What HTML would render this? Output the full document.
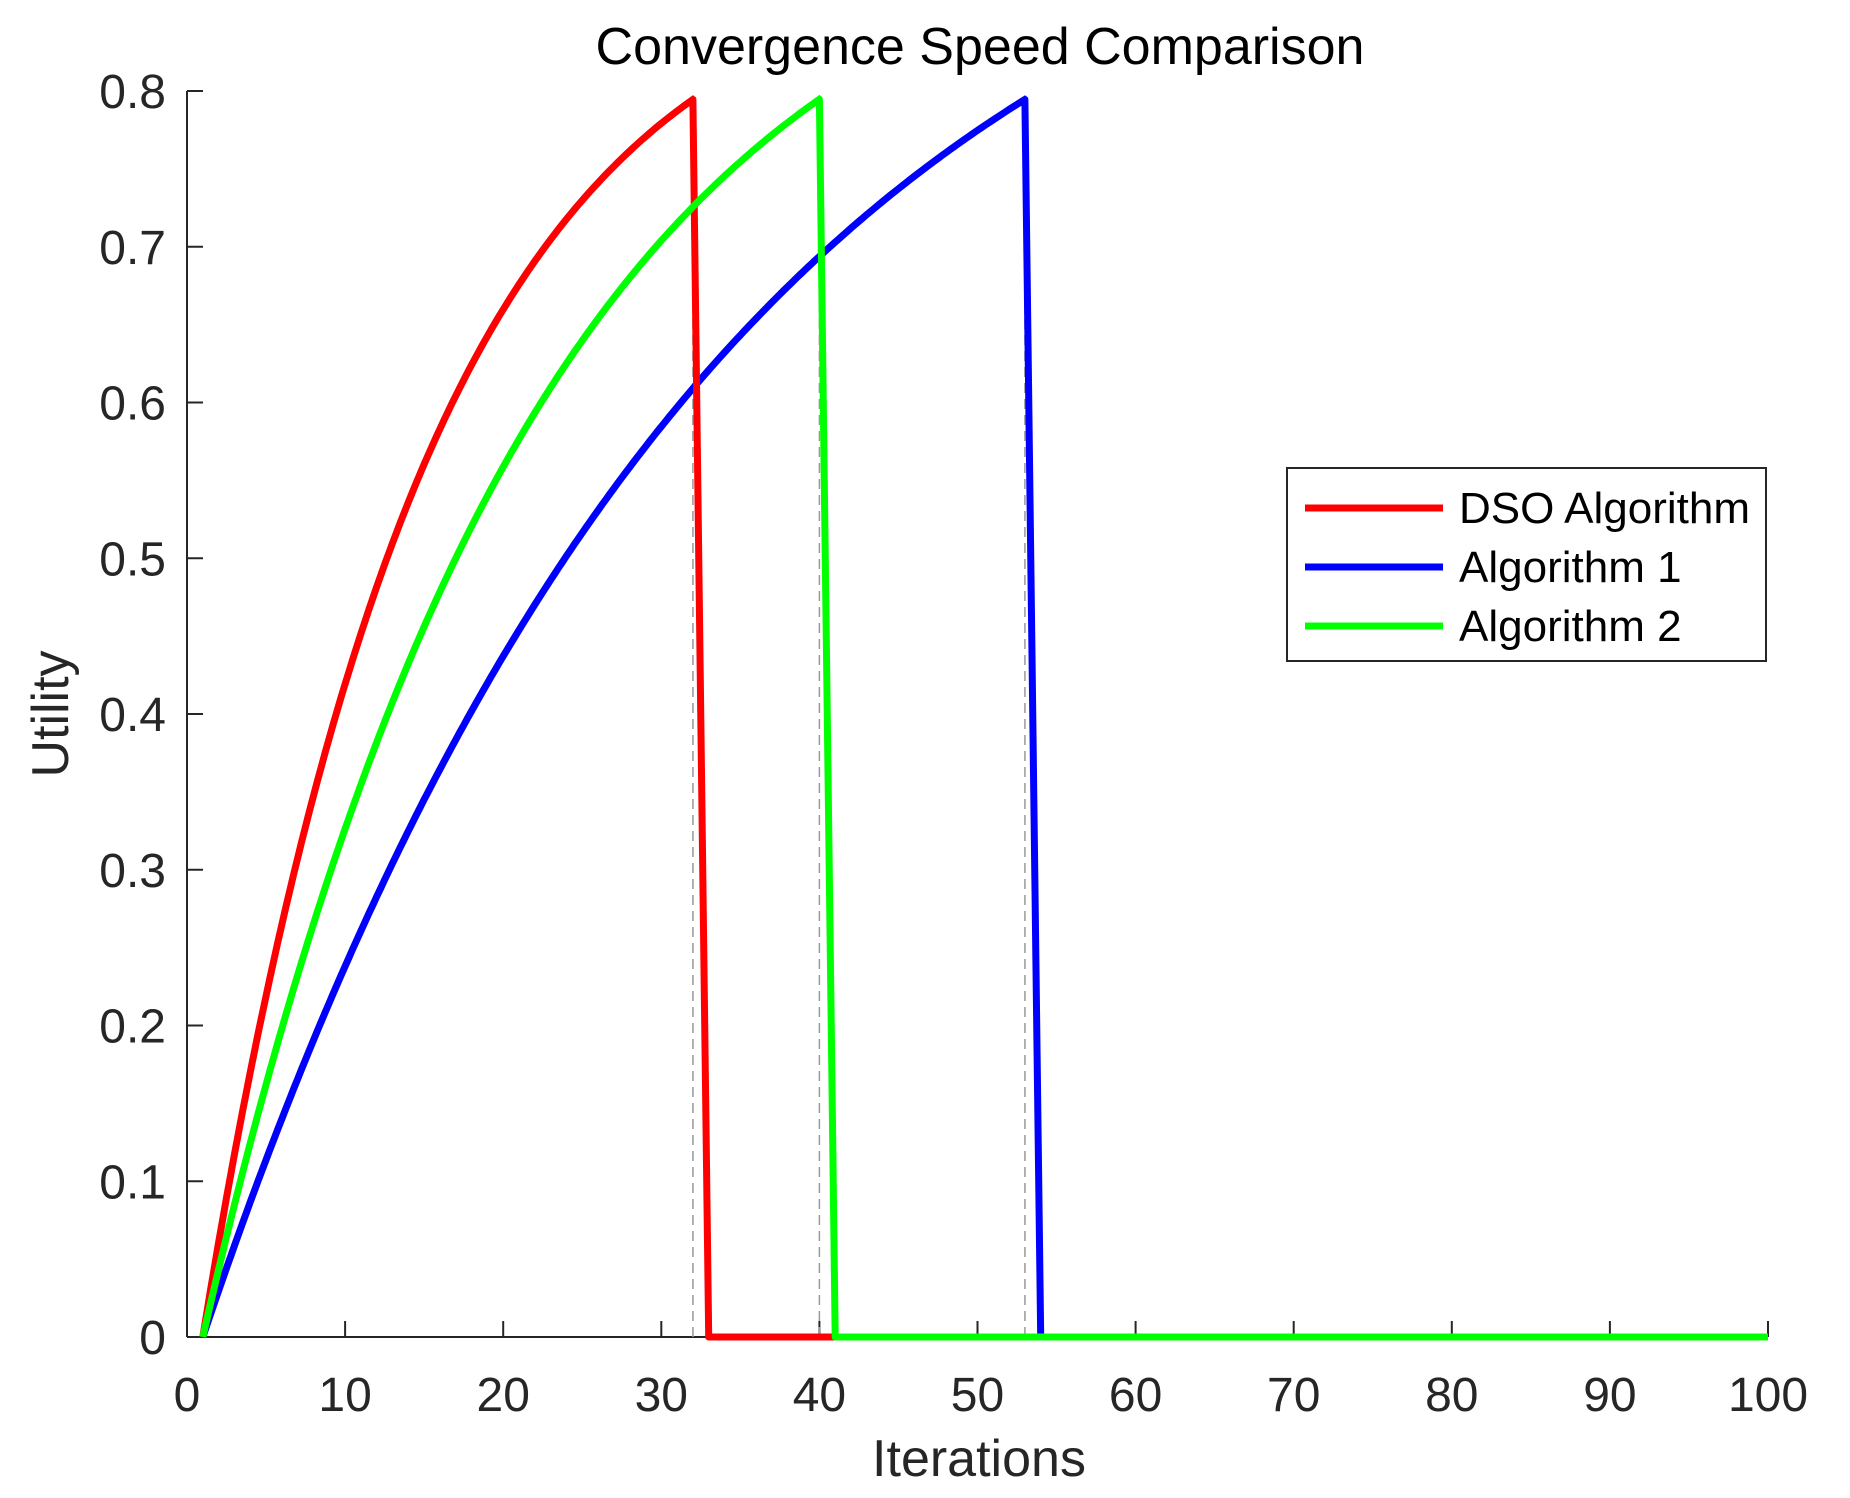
<!DOCTYPE html>
<html><head><meta charset="utf-8"><style>
html,body{margin:0;padding:0;background:#fff;}
svg{display:block;font-family:"Liberation Sans",Arial,sans-serif;}
</style></head><body>
<svg id="s" width="1850" height="1498" viewBox="0 0 1850 1498">
<rect width="1850" height="1498" fill="#fff"/>
<g id="ticks" stroke="#262626" stroke-width="2"></g>
<g id="lab" fill="#262626" font-size="48"></g>
<text x="980" y="64" text-anchor="middle" font-size="52" fill="#000">Convergence Speed Comparison</text>
<text x="979" y="1476" text-anchor="middle" font-size="52" fill="#262626">Iterations</text>
<text transform="translate(68,714) rotate(-90)" text-anchor="middle" font-size="52" fill="#262626">Utility</text>
<g id="dash" stroke="#999" stroke-width="1.5" stroke-dasharray="10,6"></g>
<g id="lines" fill="none" stroke-width="7" stroke-linejoin="round"></g>
<rect x="1287" y="468" width="479" height="193" fill="#fff" stroke="#262626" stroke-width="2"/>
<line x1="1305" y1="508" x2="1443" y2="508" stroke="#ff0000" stroke-width="7"/>
<line x1="1305" y1="567" x2="1443" y2="567" stroke="#0000ff" stroke-width="7"/>
<line x1="1305" y1="626" x2="1443" y2="626" stroke="#00ff00" stroke-width="7"/>
<g font-size="44" fill="#000">
<text x="1459" y="523">DSO Algorithm</text>
<text x="1459" y="582">Algorithm 1</text>
<text x="1459" y="641">Algorithm 2</text>
</g>
</svg>
<script>
const X0=187,X1=1768,Y0=1337,Y8=91;
const sx=x=>X0+(X1-X0)*x/100, sy=v=>Y0-(Y0-Y8)*v/0.8;
const NS="http://www.w3.org/2000/svg";
function el(p,t,a,txt){const e=document.createElementNS(NS,t);for(const k in a)e.setAttribute(k,a[k]);if(txt!==undefined)e.textContent=txt;document.getElementById(p).appendChild(e);}
el("ticks","line",{x1:X0,y1:Y8,x2:X0,y2:Y0});
el("ticks","line",{x1:X0,y1:Y0,x2:X1,y2:Y0});
for(let i=0;i<=10;i++){const x=sx(i*10);el("ticks","line",{x1:x,y1:Y0,x2:x,y2:Y0-16});
 el("lab","text",{x:x,y:Y0+74,"text-anchor":"middle"},String(i*10));}
for(let i=0;i<=8;i++){const y=sy(i/10);el("ticks","line",{x1:X0,y1:y,x2:X0+16,y2:y});
 el("lab","text",{x:X0-21,y:y+17,"text-anchor":"end"},i==0?"0":(i/10).toFixed(1));}
[32,40,53].forEach(x=>el("dash","line",{x1:sx(x),y1:sy(0),x2:sx(x),y2:sy(0.8)}));
function curve(a,k,end,col,zEnd){let d="";for(let x=1;x<=end;x+=0.25){const v=a*(1-Math.exp(-k*(x-1)));d+=(d?"L":"M")+sx(x).toFixed(1)+","+sy(v).toFixed(1);}
 d+="L"+sx(end+1).toFixed(1)+","+sy(0).toFixed(1)+"L"+sx(zEnd).toFixed(1)+","+sy(0).toFixed(1);
 el("lines","path",{d:d,stroke:col});}
curve(1.006,0.03,53,"#0000ff",54);
curve(0.897,0.07,32,"#ff0000",41);
curve(0.946,0.047,40,"#00ff00",100);
</script>
</body></html>
